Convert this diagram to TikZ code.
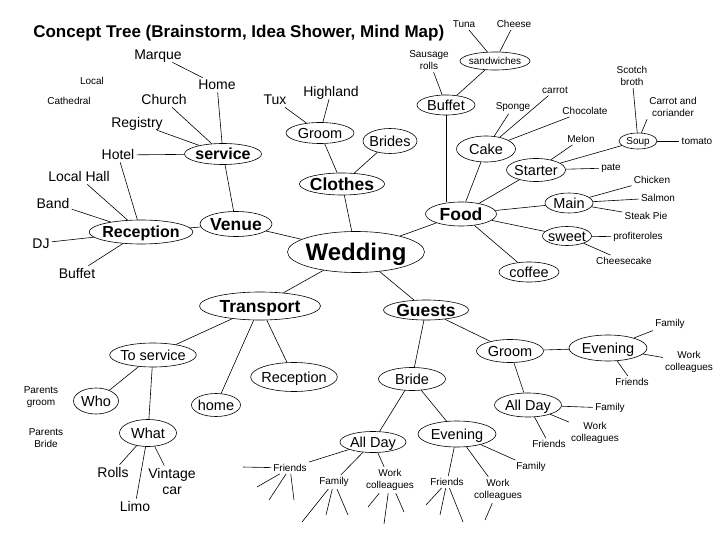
\documentclass[tikz,border=0pt]{standalone}
\usepackage{fontspec}
\setmainfont{Liberation Sans}
\usepackage{tikz}
\usetikzlibrary{shapes.geometric}

\begin{document}
\begin{tikzpicture}[x=1pt, y=-1pt, line width=0.6pt,
    heading/.style={font=\fontsize{17}{20}\selectfont\bfseries, inner sep=0pt},
    hub/.style={ellipse, draw, font=\fontsize{24}{28}\selectfont\bfseries, inner sep=0pt, inner xsep=-2pt, text height=17pt, text depth=0pt},
    branch/.style={ellipse, draw, font=\fontsize{17.5}{20}\selectfont\bfseries, inner sep=0pt, inner xsep=-2pt, text height=12.5pt, text depth=0pt},
    subbranch/.style={branch, font=\fontsize{16}{18}\selectfont\bfseries, text height=11.5pt},
    topic/.style={ellipse, draw, font=\fontsize{14.5}{16}\selectfont, inner sep=0pt, inner xsep=-2pt, text height=10.4pt, text depth=0pt},
    smalltopic/.style={topic, font=\fontsize{10}{12}\selectfont, text height=7.2pt},
    word/.style={font=\fontsize{14}{16}\selectfont, inner sep=2pt, text height=10pt, text depth=0pt},
    words/.style={font=\fontsize{14}{16}\selectfont, inner sep=2pt, align=center},
    note/.style={font=\fontsize{10}{12.5}\selectfont, inner sep=2pt, align=center},
    dims/.style 2 args={minimum width=#1, minimum height=#2},
    line/.style={draw}]

    \path [use as bounding box, fill=white] (0,0) rectangle (720,540);

    \node [heading, anchor=base west] (title) at (33,38) {Concept Tree (Brainstorm, Idea Shower, Mind Map)};

    % venue
    \node [word] (marque) at (158,55) {Marque};
    \node [word] (home) at (217,85) {Home};
    \node [note] (local) at (92,81) {Local};
    \node [note] (cathedral) at (69,101) {Cathedral};
    \node [word] (church) at (164,100) {Church};
    \node [word] (registry) at (137,123) {Registry};
    \node [word] (hotel) at (118,155) {Hotel};
    \node [word] (localhall) at (79,177) {Local Hall};
    \node [word] (band) at (53,203) {Band};
    \node [word] (dj) at (41,243) {DJ};
    \node [word] (buffetl) at (77,273) {Buffet};
    \node [subbranch, dims={77}{21}] (service) at (223,154) {service};
    \node [subbranch, dims={101}{24}] (reception) at (141,232) {Reception};
    \node [branch, dims={72}{25}] (venue) at (236,224) {Venue};
    \node [hub, dims={134}{41}] (wedding) at (356,252) {Wedding};

    % clothes
    \node [word] (tux) at (275,100) {Tux};
    \node [word] (highland) at (331,92) {Highland};
    \node [topic, dims={68}{21}] (groomc) at (320,133) {Groom};
    \node [topic, dims={54}{25}] (brides) at (390,141) {Brides};
    \node [branch, dims={84}{22}] (clothes) at (342,184) {Clothes};

    % food
    \node [note] (tuna) at (464,24) {Tuna};
    \node [note] (cheese) at (514,24) {Cheese};
    \node [note] (sausage) at (429,60) {Sausage\\rolls};
    \node [smalltopic, dims={70}{18}] (sandwiches) at (495,61) {sandwiches};
    \node [topic, dims={58}{20}] (buffet) at (446,105) {Buffet};
    \node [note] (sponge) at (513,107) {Sponge};
    \node [note] (carrot) at (555,90) {carrot};
    \node [note] (chocolate) at (585,111) {Chocolate};
    \node [topic, dims={59}{26}] (cake) at (486,149) {Cake};
    \node [note] (melon) at (581,139) {Melon};
    \node [note] (scotch) at (632,76) {Scotch\\broth};
    \node [note] (carrotcor) at (673,107) {Carrot and\\coriander};
    \node [smalltopic, dims={38}{16}] (soup) at (638,141) {Soup};
    \node [note] (tomato) at (697,141) {tomato};
    \node [topic, dims={59}{23}] (starter) at (536,170) {Starter};
    \node [note] (pate) at (611,168) {pate};
    \node [note] (chicken) at (652,180) {Chicken};
    \node [note] (salmon) at (658,198) {Salmon};
    \node [note] (steak) at (646,216) {Steak Pie};
    \node [topic, dims={48}{20}] (main) at (569,203) {Main};
    \node [branch, dims={71}{24}] (food) at (461,214) {Food};
    \node [topic, dims={49}{19}] (sweet) at (567,236) {sweet};
    \node [note] (profiteroles) at (638,237) {profiteroles};
    \node [note] (cheesecake) at (624,261) {Cheesecake};
    \node [topic, dims={60}{20}] (coffee) at (529,272) {coffee};

    % transport
    \node [branch, dims={121}{28}] (transport) at (260,306) {Transport};
    \node [topic, dims={85}{24}] (toservice) at (153,355) {To service};
    \node [topic, dims={82}{29}] (receptiont) at (294,377) {Reception};
    \node [topic, dims={49}{23}] (homet) at (216,405) {home};
    \node [topic, dims={45}{26}] (who) at (96,401) {Who};
    \node [note] (parentsg) at (41,397) {Parents\\groom};
    \node [topic, dims={57}{27}] (what) at (148,433) {What};
    \node [note] (parentsb) at (46,438) {Parents\\Bride};
    \node [word] (rolls) at (113,472) {Rolls};
    \node [words] (vintage) at (172,481) {Vintage\\car};
    \node [word] (limo) at (135,506) {Limo};

    % guests
    \node [branch, dims={85}{20}] (guests) at (426,310) {Guests};
    \node [topic, dims={67}{23}] (bride) at (412,379) {Bride};
    \node [topic, dims={67}{23}] (groom) at (510,351) {Groom};
    \node [topic, dims={66}{21}] (alldayb) at (373,442) {All Day};
    \node [topic, dims={78}{26}] (eveningb) at (457,434) {Evening};
    \node [topic, dims={78}{26}] (eveningg) at (608,348) {Evening};
    \node [topic, dims={67}{24}] (alldayg) at (528,405) {All Day};
    \node [note] (familyge) at (670,324) {Family};
    \node [note] (workge) at (689,362) {Work\\colleagues};
    \node [note] (friendsge) at (632,382) {Friends};
    \node [note] (familyga) at (610,408) {Family};
    \node [note] (workga) at (595,433) {Work\\colleagues};
    \node [note] (friendsga) at (549,444) {Friends};
    \node [note] (friendsba) at (290,468) {Friends};
    \node [note] (familyba) at (334,482) {Family};
    \node [note] (workba) at (390,480) {Work\\colleagues};
    \node [note] (friendsbe) at (447,482) {Friends};
    \node [note] (workbe) at (498,490) {Work\\colleagues};
    \node [note] (familybe) at (531,467) {Family};

    % loose ends
    \coordinate (fa1) at (243,467);
    \coordinate (fa2) at (257,487);
    \coordinate (fa3) at (269,500);
    \coordinate (fa4) at (294,500);
    \coordinate (fb1) at (302,522);
    \coordinate (fb2) at (326,515);
    \coordinate (fb3) at (348,515);
    \coordinate (wa1) at (368,507);
    \coordinate (wa2) at (384,524);
    \coordinate (wa3) at (404,512);
    \coordinate (fe1) at (426,505);
    \coordinate (fe2) at (440,515);
    \coordinate (fe3) at (463,522);
    \coordinate (we1) at (485,520);

    \path [line] (marque) -- (home);
    \path [line] (home) -- (service);
    \path [line] (church) -- (service);
    \path [line] (registry) -- (service);
    \path [line] (hotel) -- (service);
    \path [line] (hotel) -- (reception);
    \path [line] (localhall) -- (reception);
    \path [line] (band) -- (reception);
    \path [line] (dj) -- (reception);
    \path [line] (buffetl) -- (reception);
    \path [line] (reception) -- (venue);
    \path [line] (service) -- (venue);
    \path [line] (venue) -- (wedding);

    \path [line] (tux) -- (groomc);
    \path [line] (highland) -- (groomc);
    \path [line] (groomc) -- (clothes);
    \path [line] (brides) -- (clothes);
    \path [line] (clothes) -- (wedding);

    \path [line] (tuna) -- (sandwiches);
    \path [line] (cheese) -- (sandwiches);
    \path [line] (sausage) -- (buffet);
    \path [line] (sandwiches) -- (buffet);
    \path [line] (buffet) -- (buffet |- food.north);
    \path [line] (sponge) -- (cake);
    \path [line] (carrot) -- (cake);
    \path [line] (chocolate) -- (cake);
    \path [line] (cake) -- (food);
    \path [line] (melon) -- (starter);
    \path [line] (scotch) -- (soup);
    \path [line] (carrotcor.south west) -- (soup);
    \path [line] (soup) -- (tomato);
    \path [line] (starter) -- (soup);
    \path [line] (starter) -- (pate);
    \path [line] (starter) -- (food);
    \path [line] (main) -- (chicken);
    \path [line] (main) -- (salmon);
    \path [line] (main) -- (steak);
    \path [line] (food) -- (main);
    \path [line] (sweet) -- (profiteroles);
    \path [line] (sweet) -- (cheesecake);
    \path [line] (food) -- (sweet);
    \path [line] (food) -- (coffee);
    \path [line] (wedding) -- (food);

    \path [line] (wedding) -- (transport);
    \path [line] (transport) -- (toservice);
    \path [line] (transport) -- (homet);
    \path [line] (transport) -- (receptiont);
    \path [line] (toservice) -- (who);
    \path [line] (toservice) -- (what);
    \path [line] (what) -- (rolls);
    \path [line] (what) -- (limo);
    \path [line] (what) -- (vintage);

    \path [line] (wedding) -- (guests);
    \path [line] (guests) -- (bride);
    \path [line] (guests) -- (groom);
    \path [line] (bride) -- (alldayb);
    \path [line] (bride) -- (eveningb);
    \path [line] (alldayb) -- (friendsba);
    \path [line] (alldayb) -- (familyba);
    \path [line] (alldayb) -- (workba);
    \path [line] (eveningb) -- (friendsbe);
    \path [line] (eveningb) -- (workbe);
    \path [line] (eveningb) -- (familybe);
    \path [line] (groom) -- (eveningg);
    \path [line] (groom) -- (alldayg);
    \path [line] (eveningg) -- (familyge);
    \path [line] (eveningg) -- (workge);
    \path [line] (eveningg) -- (friendsge);
    \path [line] (alldayg) -- (familyga);
    \path [line] (alldayg) -- (workga);
    \path [line] (alldayg) -- (friendsga);

    \path [line] (friendsba) -- (fa1);
    \path [line] (friendsba) -- (fa2);
    \path [line] (friendsba) -- (fa3);
    \path [line] (friendsba) -- (fa4);
    \path [line] (familyba) -- (fb1);
    \path [line] (familyba) -- (fb2);
    \path [line] (familyba) -- (fb3);
    \path [line] (workba) -- (wa1);
    \path [line] (workba) -- (wa2);
    \path [line] (workba) -- (wa3);
    \path [line] (friendsbe) -- (fe1);
    \path [line] (friendsbe) -- (fe2);
    \path [line] (friendsbe) -- (fe3);
    \path [line] (workbe) -- (we1);

\end{tikzpicture}
\end{document}
